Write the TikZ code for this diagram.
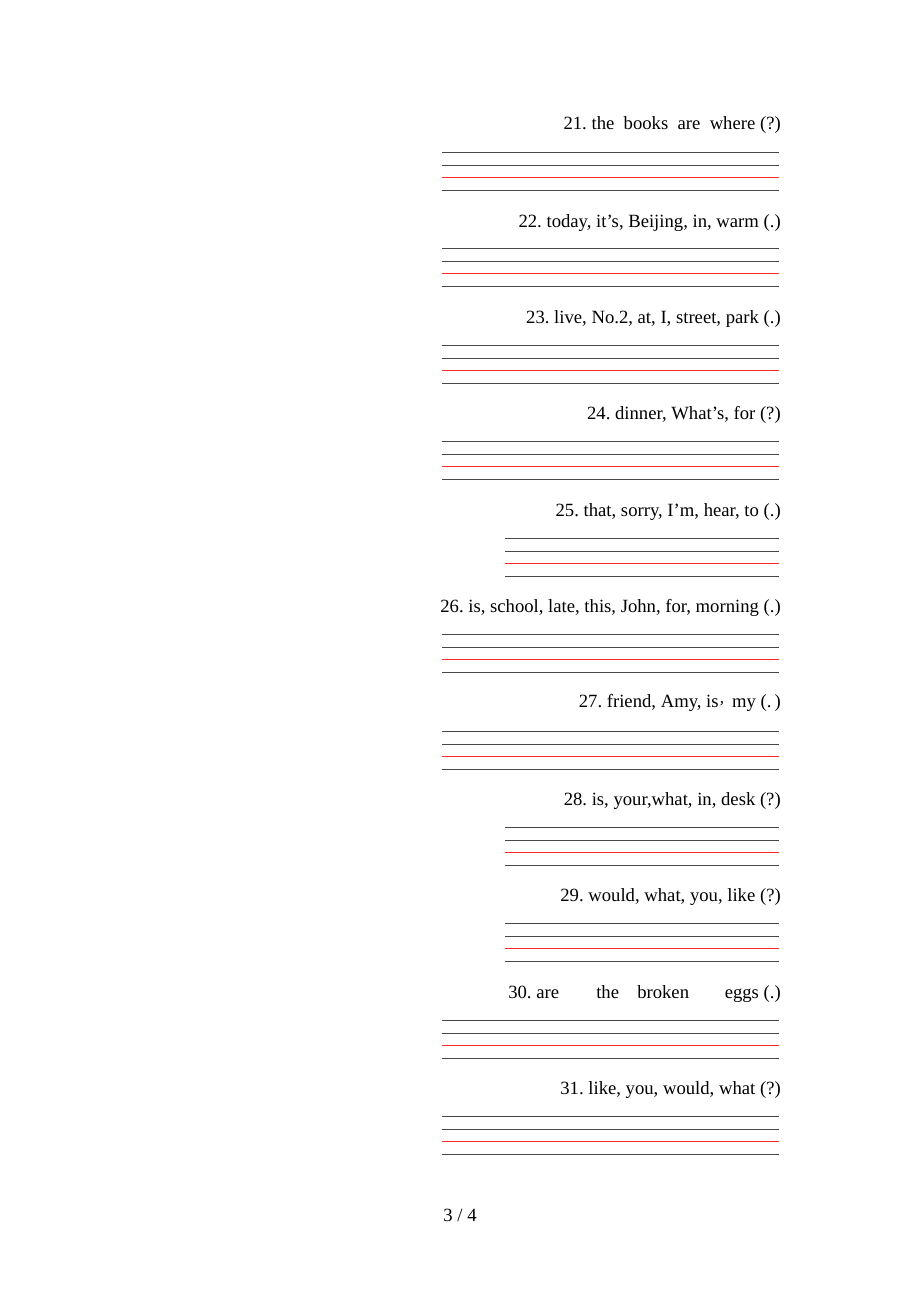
\documentclass[tikz,border=0pt]{standalone}
\usepackage{fontspec}
\setmainfont{Liberation Serif}
\newfontfamily\cjk{Noto Sans CJK SC}
\frenchspacing
\tikzset{
  qtext/.style={anchor=base east, inner sep=0pt, font=\fontsize{14}{16}\selectfont},
  wtext/.style={anchor=base west, inner sep=0pt, font=\fontsize{14}{16}\selectfont},
  darkline/.style={draw=black!72, line width=1.2pt},
  redline/.style={draw=red!85!white, line width=1.2pt},
}
\newcommand{\writelines}[2]{%
  \draw[darkline] (#1,#2+0.5) -- (779,#2+0.5);
  \draw[darkline] (#1,#2+13.5) -- (779,#2+13.5);
  \draw[redline] (#1,#2+25.5) -- (779,#2+25.5);
  \draw[darkline] (#1,#2+38.5) -- (779,#2+38.5);
}
\begin{document}
\begin{tikzpicture}[x=0.75pt,y=-0.75pt]
\useasboundingbox (0,0) rectangle (920,1302);
\fill[white] (0,0) rectangle (920,1302);
\node[qtext] (t21) at (781,130) {21. the\ \ books\ \ are\ \ where (?)};
\writelines{442}{152}
\node[qtext] (t22) at (781,227) {22. today, it’s, Beijing, in, warm (.)};
\writelines{442}{248}
\node[qtext] (t23) at (781,323) {23. live, No.2, at, I, street, park (.)};
\writelines{442}{345}
\node[qtext] (t24) at (781,419) {24. dinner, What’s, for (?)};
\writelines{442}{441}
\node[qtext] (t25) at (781,516) {25. that, sorry, I’m, hear, to (.)};
\writelines{505}{538}
\node[qtext] (t26) at (781,612) {26. is, school, late, this, John, for, morning (.)};
\writelines{442}{634}
\node[qtext] (t27) at (781,707) {27. friend, Amy, is{\cjk\fontsize{10}{12}\selectfont\raisebox{2pt}{，}}my (.\,)};
\writelines{442}{731}
\node[qtext] (t28) at (781,805) {28. is, your,what, in, desk (?)};
\writelines{505}{827}
\node[qtext] (t29) at (781,901) {29. would, what, you, like (?)};
\writelines{505}{923}
\node[wtext] (t30a) at (508,998) {30. are};
\node[wtext] (t30b) at (596,998) {the};
\node[wtext] (t30c) at (637,998) {broken};
\node[qtext] (t30d) at (781,998) {eggs (.)};
\writelines{442}{1020}
\node[qtext] (t31) at (781,1094) {31. like, you, would, what (?)};
\writelines{442}{1116}
\node[anchor=base, inner sep=0pt, font=\fontsize{14}{16}\selectfont] (pg) at (460,1221) {3 / 4};
\end{tikzpicture}
\end{document}
